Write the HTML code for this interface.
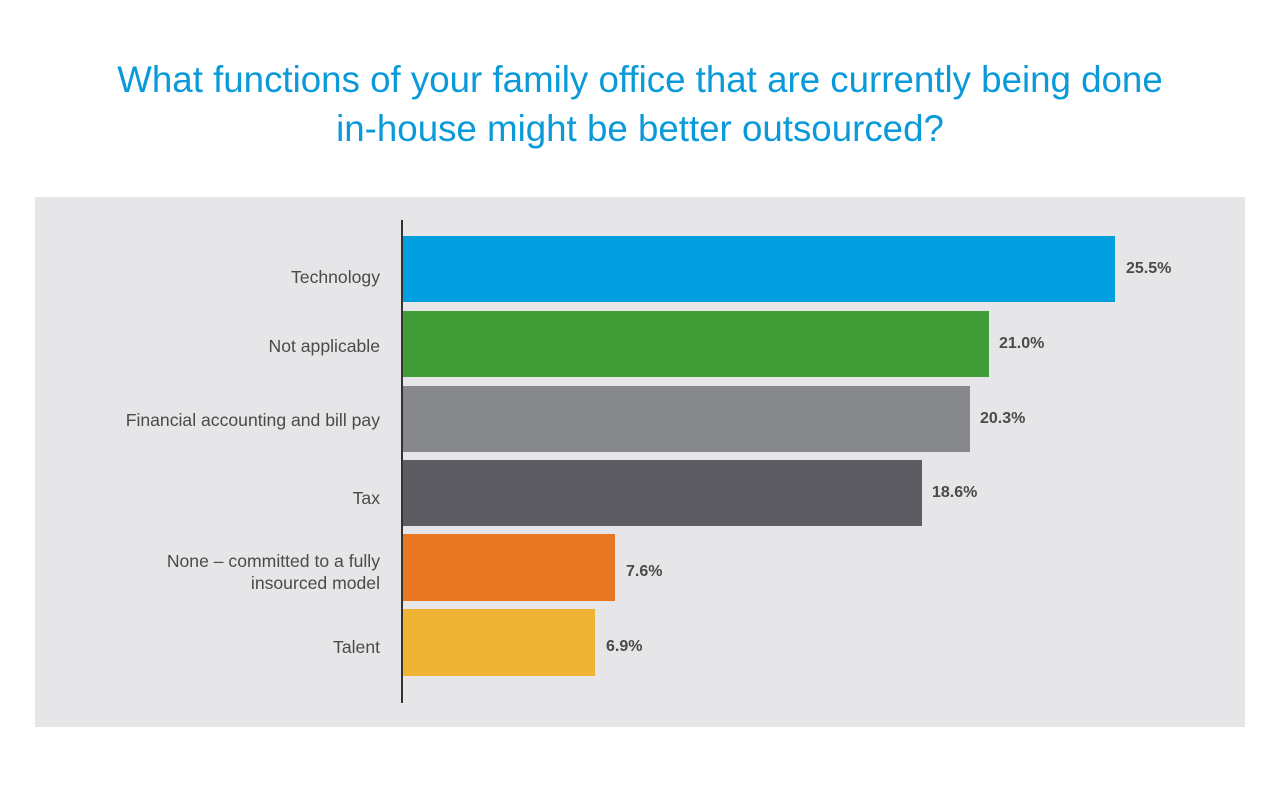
<!DOCTYPE html>
<html><head><meta charset="utf-8"><style>
body{margin:0;width:1280px;height:800px;background:#fff;position:relative;font-family:"Liberation Sans",sans-serif;overflow:hidden}
.t{position:absolute;left:0;width:1280px;text-align:center;color:#0a9ad9;font-size:36.7px;line-height:48px}
.panel{position:absolute;left:35px;top:197px;width:1210px;height:530px;background:#e6e6e8}
.axis{position:absolute;left:401px;top:220px;width:2px;height:483px;background:#333}
.bar{position:absolute;left:403px}
.lab{position:absolute;right:900px;text-align:right;color:#4a4a4a;font-size:17.6px;line-height:22px}
.val{position:absolute;color:#4a4a4a;font-size:16px;font-weight:bold}
</style></head><body>
<div class="t" style="top:56px">What functions of your family office that are currently being done</div>
<div class="t" style="top:105px">in-house might be better outsourced?</div>
<div class="panel"></div>
<div class="axis"></div>
<div class="bar" style="top:236px;height:66px;width:712px;background:#009ede"></div>
<div class="bar" style="top:311px;height:66px;width:586px;background:#3f9c37"></div>
<div class="bar" style="top:386px;height:66px;width:567px;background:#87888b"></div>
<div class="bar" style="top:460px;height:66px;width:519px;background:#5d5c62"></div>
<div class="bar" style="top:534px;height:67px;width:212px;background:#e87722"></div>
<div class="bar" style="top:609px;height:67px;width:192px;background:#f0b435"></div>
<div class="lab" style="top:266px">Technology</div>
<div class="lab" style="top:335px">Not applicable</div>
<div class="lab" style="top:409px">Financial accounting and bill pay</div>
<div class="lab" style="top:487px">Tax</div>
<div class="lab" style="top:550px">None – committed to a fully<br>insourced model</div>
<div class="lab" style="top:636px">Talent</div>
<div class="val" style="left:1126px;top:260px">25.5%</div>
<div class="val" style="left:999px;top:335px">21.0%</div>
<div class="val" style="left:980px;top:410px">20.3%</div>
<div class="val" style="left:932px;top:484px">18.6%</div>
<div class="val" style="left:626px;top:563px">7.6%</div>
<div class="val" style="left:606px;top:638px">6.9%</div>
</body></html>
